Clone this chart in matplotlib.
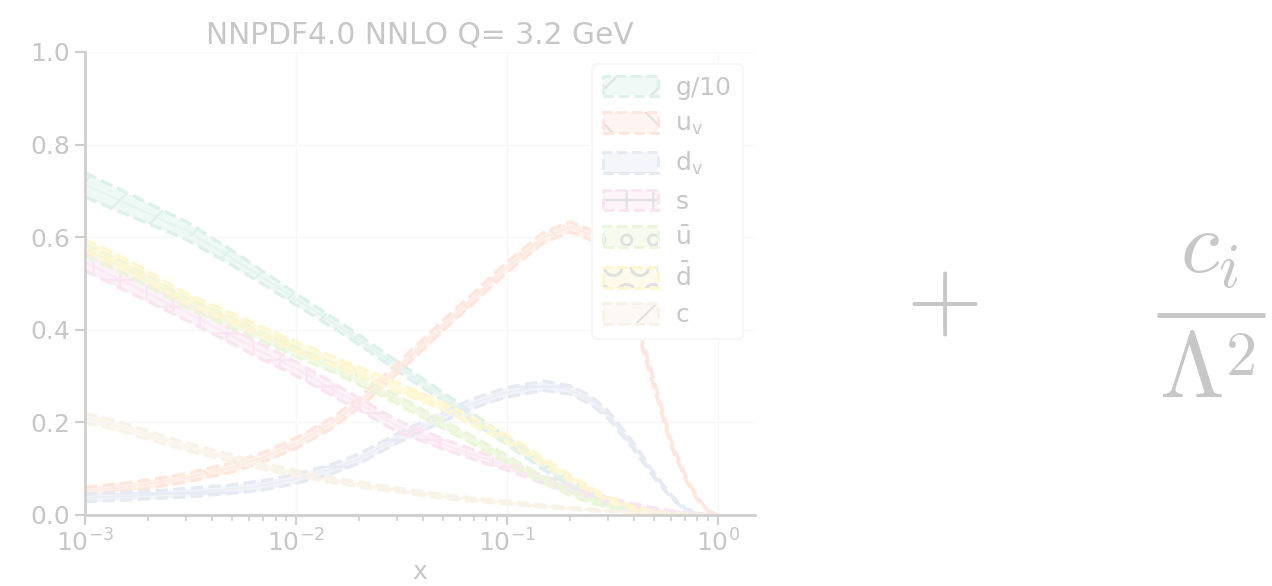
import matplotlib

matplotlib.use("Agg")
import matplotlib.pyplot as plt
import numpy as np
from matplotlib.colors import to_rgba
from matplotlib.legend_handler import HandlerTuple
from matplotlib.lines import Line2D
from matplotlib.patches import Patch, Rectangle

plt.rcParams["mathtext.fontset"] = "cm"

DPI = 160
W, H = 1272, 586

# x grid
x = [0.001, 0.0015, 0.002, 0.003, 0.005, 0.007, 0.01, 0.015, 0.02, 0.03, 0.05, 0.07,
     0.1, 0.15, 0.2, 0.25, 0.3, 0.4, 0.5, 0.6, 0.7, 0.8, 0.9, 1.0]

g10 = [0.713, 0.677, 0.651, 0.615, 0.555, 0.512, 0.466, 0.415, 0.378, 0.322, 0.255, 0.208,
       0.16, 0.104, 0.068, 0.044, 0.027, 0.011, 0.004, 0.002, 0.001, 0.0, 0.0, 0.0]
uv = [0.052, 0.06, 0.067, 0.08, 0.103, 0.125, 0.155, 0.2, 0.243, 0.315, 0.41, 0.47,
      0.535, 0.6, 0.622, 0.605, 0.565, 0.433, 0.28, 0.155, 0.082, 0.035, 0.009, 0.0]
dv = [0.037, 0.04, 0.043, 0.048, 0.056, 0.064, 0.078, 0.1, 0.122, 0.165, 0.213, 0.242,
      0.265, 0.279, 0.27, 0.248, 0.218, 0.148, 0.085, 0.04, 0.012, 0.003, 0.0, 0.0]
s = [0.546, 0.506, 0.478, 0.438, 0.386, 0.351, 0.316, 0.271, 0.239, 0.193, 0.153, 0.13,
     0.106, 0.076, 0.056, 0.043, 0.033, 0.02, 0.012, 0.007, 0.004, 0.002, 0.001, 0.0]
ubar = [0.573, 0.535, 0.505, 0.458, 0.415, 0.385, 0.352, 0.318, 0.29, 0.25, 0.195, 0.16,
        0.12, 0.075, 0.048, 0.031, 0.02, 0.008, 0.003, 0.001, 0.0, 0.0, 0.0, 0.0]
dbar = [0.583, 0.545, 0.515, 0.468, 0.425, 0.395, 0.365, 0.333, 0.31, 0.277, 0.235, 0.2,
        0.165, 0.115, 0.08, 0.055, 0.035, 0.014, 0.006, 0.002, 0.001, 0.0, 0.0, 0.0]
c = [0.21, 0.19, 0.172, 0.148, 0.122, 0.105, 0.09, 0.075, 0.066, 0.054, 0.04, 0.033,
     0.027, 0.019, 0.014, 0.011, 0.009, 0.006, 0.004, 0.002, 0.001, 0.0, 0.0, 0.0]

# half widths of the bands
g10_err = [0.026, 0.024, 0.022, 0.019, 0.016, 0.014, 0.012, 0.011, 0.01, 0.01, 0.009, 0.009,
           0.008, 0.007, 0.006, 0.005, 0.005, 0.004, 0.003, 0.002, 0.001, 0.0, 0.0, 0.0]
uv_err = [0.008, 0.008, 0.009, 0.009, 0.01, 0.01, 0.011, 0.011, 0.011, 0.011, 0.011, 0.011,
          0.011, 0.011, 0.011, 0.011, 0.01, 0.009, 0.008, 0.006, 0.004, 0.002, 0.001, 0.0]
dv_err = [0.008, 0.008, 0.008, 0.009, 0.009, 0.01, 0.01, 0.01, 0.01, 0.01, 0.01, 0.01,
          0.01, 0.01, 0.009, 0.009, 0.008, 0.007, 0.005, 0.003, 0.002, 0.001, 0.0, 0.0]
s_err = [0.018, 0.018, 0.017, 0.017, 0.016, 0.016, 0.015, 0.014, 0.013, 0.012, 0.011, 0.01,
         0.009, 0.008, 0.007, 0.006, 0.005, 0.004, 0.003, 0.002, 0.001, 0.001, 0.0, 0.0]
ubar_err = [0.012, 0.012, 0.011, 0.011, 0.01, 0.01, 0.01, 0.009, 0.009, 0.009, 0.008, 0.008,
            0.008, 0.007, 0.006, 0.005, 0.004, 0.003, 0.002, 0.001, 0.001, 0.0, 0.0, 0.0]
dbar_err = [0.012, 0.012, 0.011, 0.011, 0.01, 0.01, 0.01, 0.009, 0.009, 0.009, 0.008, 0.008,
            0.008, 0.007, 0.006, 0.005, 0.004, 0.003, 0.002, 0.001, 0.001, 0.0, 0.0, 0.0]
c_err = [0.01, 0.009, 0.009, 0.008, 0.007, 0.006, 0.006, 0.005, 0.005, 0.004, 0.004, 0.003,
         0.003, 0.002, 0.002, 0.002, 0.001, 0.001, 0.001, 0.0, 0.0, 0.0, 0.0, 0.0]

labels = ["g/10", r"u$_\mathregular{v}$", r"d$_\mathregular{v}$", "s",
          r"$\mathregular{\bar{u}}$", r"$\mathregular{\bar{d}}$", "c"]
title = "NNPDF4.0 NNLO Q= 3.2 GeV"

colors = ["#66c2a5", "#fc8d62", "#8da0cb", "#e78ac3", "#a6d854", "#ffd92f", "#e5c494"]
hatches = ["/", "\\", "-", "+", "o", "O", "/"]

series = [(g10, g10_err), (uv, uv_err), (dv, dv_err), (s, s_err),
          (ubar, ubar_err), (dbar, dbar_err), (c, c_err)]

fig = plt.figure(figsize=(W / DPI, H / DPI), dpi=DPI)
ax = fig.add_axes([0.0668, 0.1212, 0.5268, 0.7901])

xa = np.array(x)
handles = []
for (cv, err), col, hat, lab in zip(series, colors, hatches, labels):
    cv = np.array(cv)
    err = np.array(err)
    lo, hi = cv - err, cv + err
    ax.fill_between(xa, lo, hi, color=col, alpha=0.5, lw=0, zorder=1)
    ax.fill_between(xa, lo, hi, facecolor="none", edgecolor=col, hatch=hat, lw=0, zorder=1)
    ax.plot(xa, hi, ls="--", color=col, lw=1.5, zorder=2)
    ax.plot(xa, lo, ls="--", color=col, lw=1.5, zorder=2)
    ax.plot(xa, cv, ls="-", color=col, lw=0.9, alpha=0.6, zorder=2)
    h1 = Patch(facecolor=to_rgba(col, 0.4), edgecolor="#777777", hatch=hat, lw=0)
    h2 = Patch(facecolor="none", edgecolor=col, ls="--", lw=1.3)
    handles.append((h1, h2))

ax.set_xscale("log")
ax.set_xlim(1e-3, 1.5)
ax.set_ylim(0, 1.0)
ax.set_yticks([0.0, 0.2, 0.4, 0.6, 0.8, 1.0])
ax.grid(True, which="major", color="#dddddd", lw=0.6)
for side in ("top", "right"):
    ax.spines[side].set_visible(False)
for side in ("left", "bottom"):
    ax.spines[side].set_color("#222222")
    ax.spines[side].set_linewidth(1.25)
ax.tick_params(axis="both", which="major", labelsize=11.25, length=4.4, width=0.95,
               color="#222222", pad=2.2)
ax.tick_params(axis="x", which="minor", length=2.5, width=0.75, color="#222222")
ax.set_title(title, fontsize=13.4, pad=3.8)
ax.set_xlabel("x", fontsize=11.25, labelpad=1.2)

leg = ax.legend(handles, labels, handler_map={tuple: HandlerTuple(ndivide=1)},
                loc="upper right", fontsize=11.25, handlelength=2.2, handleheight=0.9,
                handletextpad=0.7, labelspacing=0.5, borderpad=0.45, framealpha=1.0,
                edgecolor="#dddddd", fancybox=True)

# "+ c_i / Lambda^2" on the right, built from pieces
fig.text(0.7405, 0.487, r"$+$", fontsize=44, ha="center", va="center")
fig.text(1209 / W, 1 - 273 / H, r"$c_i$", fontsize=40, ha="center", va="baseline")
fig.text(1159 / W, 1 - 397 / H, r"$\Lambda$", fontsize=42, ha="left", va="baseline")
fig.text(1225 / W, 1 - 375 / H, r"$2$", fontsize=28, ha="left", va="baseline")
fig.add_artist(Line2D([1157 / W, 1265 / W], [1 - 314.5 / H, 1 - 314.5 / H],
                      transform=fig.transFigure, color="black", lw=2.2,
                      solid_capstyle="butt"))

# faded look
fig.patches.append(Rectangle((0, 0), 1, 1, transform=fig.transFigure, facecolor="white",
                             alpha=0.785, zorder=100))

fig.savefig("out.png", dpi=DPI)
